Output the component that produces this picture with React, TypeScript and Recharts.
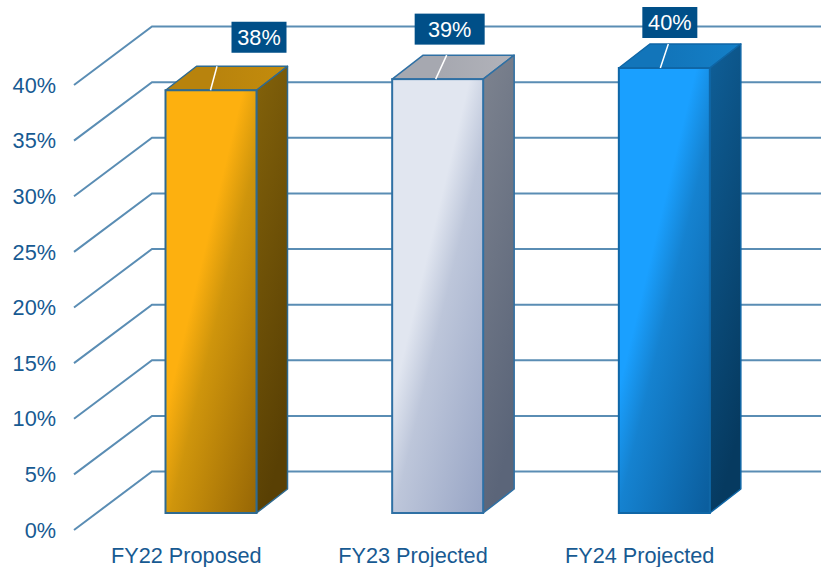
import { BarChart, Bar, XAxis, YAxis, CartesianGrid, LabelList } from "recharts";

const categories = ["FY22 Proposed", "FY23 Projected", "FY24 Projected"];
const shares = [38, 39, 40];
const yTicks = [0, 5, 10, 15, 20, 25, 30, 35, 40];

const data = categories.map((name, i) => ({ name, share: shares[i] }));

const INK = "#175A92";
const GRID = "#5A8DB4";
const FONT = "'Liberation Sans', Arial, sans-serif";

// the "floor" of the fake 3D box
const WALL_DX = 78;
const WALL_DY = -58.5;
const BAR_DX = 23.5;
const BAR_DY = -17;
const DEPTH_DX = 31;
const DEPTH_DY = -24;

const palettes = [
  { front: "#FDB00F", mid: "#CF950C", end: "#966605", top: "#B8830D", topEnd: "#C48C0C", side: "#83620A", sideEnd: "#594004", stroke: "#2F6A90" },
  { front: "#E1E6F0", mid: "#BDC6DA", end: "#98A5C5", top: "#A6A8B0", topEnd: "#B2B3BA", side: "#7D838F", sideEnd: "#5B6579", stroke: "#2F70A4" },
  { front: "#1AA0FF", mid: "#1582D0", end: "#0B5E9E", top: "#1275BA", topEnd: "#1480C8", side: "#0F5F98", sideEnd: "#063A60", stroke: "#0F66A6" },
];

// callout box and leader placement, relative to the bar's front top centre
const callouts = [
  { dx: 48, dy: -53, w: 55, leaderBottom: -0.5, leaderTop: 6 },
  { dx: 12, dy: -50, w: 70, leaderBottom: -2, leaderTop: 9 },
  { dx: 5.5, dy: -45.5, w: 55, leaderBottom: -4, leaderTop: 4 },
];

function WallLine(props: any) {
  const { x1, x2, y1 } = props;
  const points = `${x1},${y1} ${x1 + WALL_DX},${y1 + WALL_DY} ${x2 + WALL_DX},${y1 + WALL_DY}`;
  return <polyline key={props.key} points={points} fill="none" stroke={GRID} strokeWidth={2} />;
}

function Bar3D(props: any) {
  const { x, y, width, height, index } = props;
  const p = palettes[index];
  const left = x + BAR_DX;
  const top = y + BAR_DY;
  const right = left + width;
  const bottom = top + height;
  const frontId = `front-${index}`;
  const topId = `top-${index}`;
  const sideId = `side-${index}`;

  return (
    <g>
      <defs>
        <linearGradient id={frontId} gradientUnits="userSpaceOnUse" x1={left} y1={top} x2={left + 183} y2={top + 44}>
          <stop offset="0.4" stopColor={p.front} />
          <stop offset="0.55" stopColor={p.mid} />
          <stop offset="1" stopColor={p.end} />
        </linearGradient>
        <linearGradient id={topId} x1="0" y1="0" x2="1" y2="0">
          <stop offset="0.4" stopColor={p.top} />
          <stop offset="1" stopColor={p.topEnd} />
        </linearGradient>
        <linearGradient id={sideId} x1="0" y1="0" x2="0.25" y2="1">
          <stop offset="0" stopColor={p.side} />
          <stop offset="1" stopColor={p.sideEnd} />
        </linearGradient>
      </defs>
      <polygon
        points={`${left},${top} ${left + DEPTH_DX},${top + DEPTH_DY} ${right + DEPTH_DX},${top + DEPTH_DY} ${right},${top}`}
        fill={`url(#${topId})`}
        stroke={p.stroke}
        strokeWidth={1.5}
        strokeLinejoin="round"
      />
      <polygon
        points={`${right},${top} ${right + DEPTH_DX},${top + DEPTH_DY} ${right + DEPTH_DX},${bottom + DEPTH_DY} ${right},${bottom}`}
        fill={`url(#${sideId})`}
        stroke={p.stroke}
        strokeWidth={1.5}
        strokeLinejoin="round"
      />
      <rect x={left} y={top} width={width} height={height} fill={`url(#${frontId})`} stroke={p.stroke} strokeWidth={2} />
    </g>
  );
}

function Callout(props: any) {
  const { x, y, width, value, index } = props;
  const c = callouts[index];
  const cx = x + BAR_DX + width / 2;
  const top = y + BAR_DY;
  return (
    <g>
      <line
        x1={cx + c.leaderBottom}
        y1={top}
        x2={cx + c.leaderTop}
        y2={top + DEPTH_DY}
        stroke="#FFFFFF"
        strokeWidth={1.5}
      />
      <rect x={cx + c.dx - c.w / 2} y={top + c.dy - 15.5} width={c.w} height={31} fill="#004F88" />
      <text
        x={cx + c.dx}
        y={top + c.dy + 7.5}
        textAnchor="middle"
        fontFamily={FONT}
        fontSize={21.7}
        fill="#FFFFFF"
      >
        {value}%
      </text>
    </g>
  );
}

export default function App() {
  return (
    <div style={{ position: "absolute", left: 0, top: 0 }}>
      <BarChart
        width={821}
        height={567}
        data={data}
        margin={{ top: 85, right: 67, bottom: 0, left: 0 }}
        style={{ overflow: "hidden" }}
      >
        <CartesianGrid vertical={false} horizontal={WallLine} />
        <XAxis
          dataKey="name"
          axisLine={false}
          tickLine={false}
          interval={0}
          height={37}
          dx={-1}
          tick={{ fontSize: 21.7, fontFamily: FONT, fill: INK }}
          tickMargin={11.5}
        />
        <YAxis
          domain={[0, 40]}
          ticks={yTicks}
          width={74}
          axisLine={false}
          tickLine={false}
          tickSize={0}
          tickMargin={18}
          tickFormatter={(v) => `${v}%`}
          tick={{ fontSize: 21.7, fontFamily: FONT, fill: INK }}
        />
        <Bar dataKey="share" barSize={91} shape={Bar3D} isAnimationActive={false}>
          <LabelList dataKey="share" content={Callout} />
        </Bar>
      </BarChart>
    </div>
  );
}
